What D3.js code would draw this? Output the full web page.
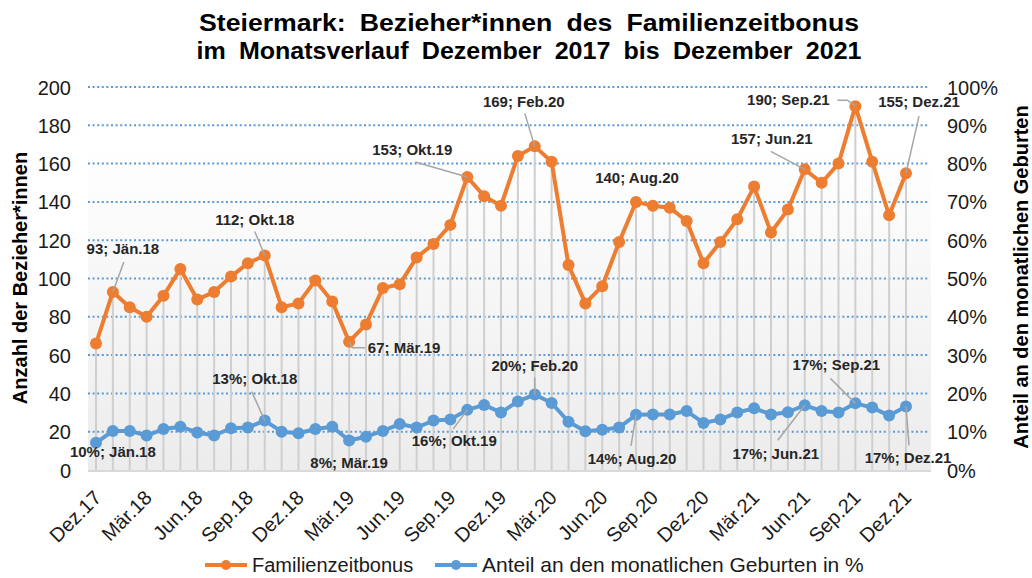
<!DOCTYPE html>
<html><head><meta charset="utf-8">
<script src="https://cdn.jsdelivr.net/npm/d3@7"></script>
<style>
body{margin:0;background:#fff;}
text{font-family:"Liberation Sans",Arial,sans-serif;}
</style></head>
<body><svg id="c" width="1032" height="578"></svg>
<script>
const months = ["Dez.17","Jän.18","Feb.18","Mär.18","Apr.18","Mai.18","Jun.18","Jul.18","Aug.18","Sep.18","Okt.18","Nov.18","Dez.18",
"Jän.19","Feb.19","Mär.19","Apr.19","Mai.19","Jun.19","Jul.19","Aug.19","Sep.19","Okt.19","Nov.19","Dez.19",
"Jän.20","Feb.20","Mär.20","Apr.20","Mai.20","Jun.20","Jul.20","Aug.20","Sep.20","Okt.20","Nov.20","Dez.20",
"Jän.21","Feb.21","Mär.21","Apr.21","Mai.21","Jun.21","Jul.21","Aug.21","Sep.21","Okt.21","Nov.21","Dez.21"];
const bonus = [66,93,85,80,91,105,89,93,101,108,112,85,87,
99,88,67,76,95,97,111,118,128,153,143,138,
164,169,161,107,87,96,119,140,138,137,130,108,
119,131,148,124,136,157,150,160,190,161,133,155];
const share = [7.1,10.2,10.2,9.0,10.7,11.3,9.8,9.0,10.9,11.1,12.9,10.0,9.6,
10.7,11.3,7.7,8.7,10.2,12.0,11.1,12.9,13.2,15.7,17.0,15.0,
17.9,19.7,17.5,12.6,10.1,10.5,11.1,14.4,14.5,14.5,15.4,12.3,
13.2,15.0,16.1,14.5,15.1,16.9,15.4,15.0,17.4,16.3,14.2,16.6];
const tickMonths = ["Dez.17","Mär.18","Jun.18","Sep.18","Dez.18","Mär.19","Jun.19","Sep.19","Dez.19","Mär.20","Jun.20","Sep.20","Dez.20","Mär.21","Jun.21","Sep.21","Dez.21"];
const leftTicks = [0,20,40,60,80,100,120,140,160,180,200];
const rightTicks = [0,10,20,30,40,50,60,70,80,90,100];
const bonusLabelled = ["Jän.18","Okt.18","Mär.19","Okt.19","Feb.20","Aug.20","Jun.21","Sep.21","Dez.21"];
const shareLabelled = ["Jän.18","Okt.18","Mär.19","Okt.19","Feb.20","Aug.20","Jun.21","Sep.21","Dez.21"];
const title1 = "Steiermark: Bezieher*innen des Familienzeitbonus";
const title2 = "im Monatsverlauf Dezember 2017 bis Dezember 2021";
const leftTitle = "Anzahl der Bezieher*innen";
const rightTitle = "Anteil an den monatlichen Geburten";
const seriesNames = ["Familienzeitbonus","Anteil an den monatlichen Geburten in %"];

// layout (label offsets relative to their points)
const bonusLayout = {
 "Jän.18":{dx:10,dy:-38,lead:[[11,-30]]},
 "Okt.18":{dx:-10,dy:-31,lead:[[-10,-24]]},
 "Mär.19":{dx:55,dy:11,lead:[[3,6],[16,6]]},
 "Okt.19":{dx:-55,dy:-22,lead:[[-52,-15]]},
 "Feb.20":{dx:-11,dy:-39,lead:[[-10,-33]]},
 "Aug.20":{dx:1,dy:-19,lead:null},
 "Jun.21":{dx:-33,dy:-25,lead:[[-34,-18]]},
 "Sep.21":{dx:-67,dy:-1,lead:[[-8,-6],[-18,-6]]},
 "Dez.21":{dx:13,dy:-66,lead:[[13,-57]]}
};
const shareLayout = {
 "Jän.18":{dx:0,dy:26,lead:null},
 "Okt.18":{dx:-10,dy:-37,lead:[[-13,-29]]},
 "Mär.19":{dx:0,dy:27,lead:null},
 "Okt.19":{dx:-13,dy:36,lead:[[-14,19]]},
 "Feb.20":{dx:0,dy:-24,lead:[[0,-17]]},
 "Aug.20":{dx:-4,dy:49,lead:[[-5,31]]},
 "Jun.21":{dx:-29,dy:54,lead:[[-27,35]]},
 "Sep.21":{dx:-19,dy:-33,lead:[[-25,-25]]},
 "Dez.21":{dx:2,dy:57,lead:[[3,39]]}
};

const orange="#ED7D31", blue="#5B9BD5";
const svg=d3.select("#c");
const L=88,R=931,T=87,B=470;
const x=d3.scalePoint().domain(months).range([96,906]);
const yL=d3.scaleLinear().domain([0,200]).range([B,T]);
const yR=d3.scaleLinear().domain([0,100]).range([B,T]);

const defs=svg.append("defs");
const g=defs.append("linearGradient").attr("id","bg").attr("x1",0).attr("y1",0).attr("x2",0).attr("y2",1);
g.append("stop").attr("offset","0%").attr("stop-color","#ffffff");
g.append("stop").attr("offset","15%").attr("stop-color","#ffffff");
g.append("stop").attr("offset","100%").attr("stop-color","#ececec");
svg.append("rect").attr("x",L).attr("y",T).attr("width",R-L).attr("height",B-T).attr("fill","url(#bg)");

// gridlines
svg.append("g").selectAll("line").data(leftTicks.filter(d=>d>0)).join("line")
 .attr("x1",L).attr("x2",R-3).attr("y1",d=>yL(d)).attr("y2",d=>yL(d))
 .attr("stroke",blue).attr("stroke-width",2).attr("stroke-dasharray","2,2.6");

// drop lines
svg.append("g").selectAll("line").data(months).join("line")
 .attr("x1",d=>x(d)).attr("x2",d=>x(d)).attr("y1",(d,i)=>yL(bonus[i])).attr("y2",B)
 .attr("stroke","#cfcfcf").attr("stroke-width",2);

// bottom axis line
svg.append("line").attr("x1",L).attr("x2",R).attr("y1",B+1).attr("y2",B+1).attr("stroke","#d9d9d9").attr("stroke-width",2);

// left axis
const axL=d3.axisLeft(yL).tickValues(leftTicks).tickSize(0).tickPadding(0);
const gL=svg.append("g").attr("transform","translate(71,0)").call(axL);
gL.select(".domain").remove();
gL.selectAll("text").attr("font-size",20).attr("fill","#1a1a1a").attr("font-family","Liberation Sans, Arial").attr("dy","0.35em");
// right axis
const axR=d3.axisRight(yR).tickValues(rightTicks).tickFormat(d=>d+"%").tickSize(0).tickPadding(0);
const gR=svg.append("g").attr("transform","translate(947,0)").call(axR);
gR.select(".domain").remove();
gR.selectAll("text").attr("font-size",20).attr("fill","#1a1a1a").attr("font-family","Liberation Sans, Arial").attr("dy","0.35em");

// x axis labels
const axB=d3.axisBottom(x).tickValues(tickMonths).tickSize(0).tickPadding(0);
const gB=svg.append("g").attr("transform","translate(0,"+B+")").call(axB);
gB.select(".domain").remove();
gB.selectAll("text").attr("font-size",20).attr("fill","#1a1a1a").attr("font-family","Liberation Sans, Arial")
 .attr("text-anchor","end").attr("dy",0).attr("y",0)
 .attr("transform","translate(6,29) rotate(-45)");

// lines
const lineB=d3.line().x((d,i)=>x(months[i])).y(d=>yL(d));
const lineS=d3.line().x((d,i)=>x(months[i])).y(d=>yR(d));
svg.append("path").attr("d",lineS(share)).attr("fill","none").attr("stroke",blue).attr("stroke-width",4).attr("stroke-linejoin","round");
svg.append("g").selectAll("circle").data(share).join("circle").attr("cx",(d,i)=>x(months[i])).attr("cy",d=>yR(d)).attr("r",6).attr("fill",blue);
svg.append("path").attr("d",lineB(bonus)).attr("fill","none").attr("stroke",orange).attr("stroke-width",4).attr("stroke-linejoin","round");
svg.append("g").selectAll("circle").data(bonus).join("circle").attr("cx",(d,i)=>x(months[i])).attr("cy",d=>yL(d)).attr("r",6).attr("fill",orange);

// labels
function labels(list,values,scale,layout,fmt){
 const gg=svg.append("g");
 list.forEach(m=>{
  const i=months.indexOf(m); const px=x(m), py=scale(values[i]); const o=layout[m];
  if(o.lead){
   const pts=[[px,py]].concat(o.lead.map(p=>[px+p[0],py+p[1]]));
   gg.append("path").attr("d",d3.line()(pts.reverse())).attr("fill","none").attr("stroke","#a6a6a6").attr("stroke-width",1.5);
  }
  gg.append("text").attr("x",px+o.dx).attr("y",py+o.dy).attr("text-anchor","middle")
   .attr("font-size",15).attr("font-weight","bold").attr("fill","#262626").text(fmt(values[i])+"; "+m);
 });
}
labels(bonusLabelled,bonus,yL,bonusLayout,v=>v);
labels(shareLabelled,share,yR,shareLayout,v=>Math.round(v)+"%");

// titles
function title(txt,y,len){
 svg.append("text").attr("x",529).attr("y",y).attr("text-anchor","middle").attr("font-size",24).attr("font-weight","bold")
  .attr("fill","#000").attr("word-spacing",6).attr("textLength",len).attr("lengthAdjust","spacingAndGlyphs").text(txt);
}
title(title1,31,660);
title(title2,59,665);
svg.append("text").attr("transform","translate(27,278) rotate(-90)").attr("text-anchor","middle").attr("font-size",20).attr("font-weight","bold").text(leftTitle);
svg.append("text").attr("transform","translate(1028,277) rotate(-90)").attr("text-anchor","middle").attr("font-size",20).attr("font-weight","bold").text(rightTitle);

// legend
const leg=[{name:seriesNames[0],c:orange,x:205,fs:20},{name:seriesNames[1],c:blue,x:435,fs:21}];
leg.forEach(l=>{
 svg.append("line").attr("x1",l.x).attr("x2",l.x+42).attr("y1",565).attr("y2",565).attr("stroke",l.c).attr("stroke-width",4);
 svg.append("circle").attr("cx",l.x+21).attr("cy",565).attr("r",5).attr("fill",l.c);
 svg.append("text").attr("x",l.x+47).attr("y",572).attr("font-size",l.fs).attr("fill","#1a1a1a").text(l.name);
});
</script></body></html>
